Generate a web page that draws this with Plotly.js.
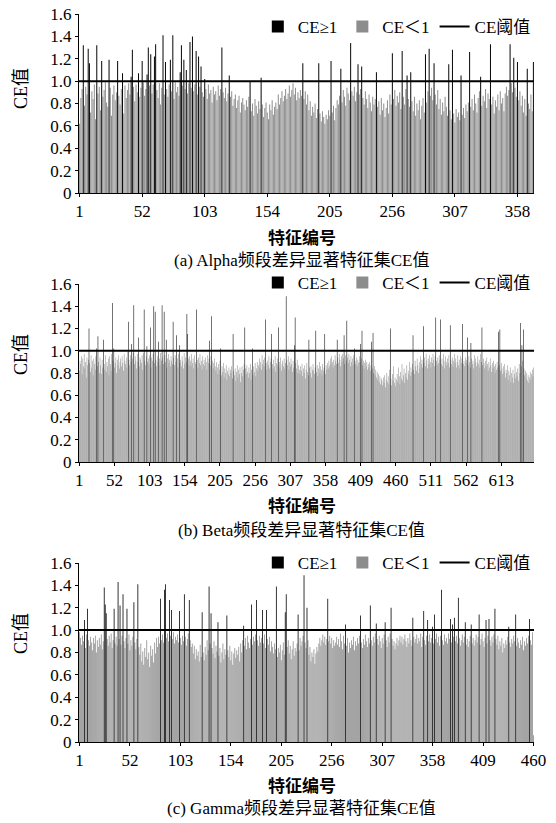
<!DOCTYPE html>
<html><head><meta charset="utf-8">
<script src="https://cdn.plot.ly/plotly-3.0.1.min.js"></script>
<style>html,body{margin:0;padding:0;background:#fff}#chart{width:556px;height:823px}</style>
</head><body><div id="chart"></div>
<script>
// ---------- data ----------
const alphaCE = [
0.62,0.85,0.93,1.32,0.78,0.95,0.88,1.29,1.16,0.72,
0.91,0.84,0.97,0.66,1.32,0.89,0.95,0.74,1.18,0.86,
0.92,0.99,0.81,0.77,1.19,0.94,0.69,0.88,0.96,0.83,
0.90,1.18,0.87,0.79,0.93,1.07,0.71,0.96,0.85,0.92,
0.98,0.88,1.04,1.28,0.95,0.82,0.97,0.90,1.07,0.86,
0.94,1.18,0.99,0.87,0.93,1.06,1.30,0.96,1.24,0.89,
0.97,1.22,1.33,0.92,0.85,0.98,0.79,0.94,1.41,0.88,
1.17,0.93,0.86,0.97,1.19,0.91,1.41,0.84,0.99,0.90,
0.95,0.87,1.08,1.32,0.96,1.19,0.93,1.10,0.89,0.98,
1.35,0.94,1.40,0.91,0.97,1.27,0.88,1.22,0.95,1.13,
0.90,0.86,1.02,0.93,0.84,0.97,0.89,0.92,0.81,0.95,
0.88,0.91,0.83,0.96,0.87,0.93,1.30,0.90,0.85,0.94,
0.82,0.89,1.05,0.86,0.91,0.78,0.84,0.88,0.76,0.83,
0.87,0.72,0.81,0.85,0.79,0.74,0.83,0.77,0.86,1.00,
0.73,0.80,0.69,0.84,0.78,0.71,0.82,0.75,1.03,0.79,
0.68,0.76,0.81,0.72,0.66,0.79,0.74,0.83,0.70,0.77,
0.81,0.75,0.88,0.79,0.85,0.91,0.82,0.87,0.93,0.84,
0.89,0.96,0.86,0.92,0.98,0.88,0.94,0.83,0.90,0.85,
0.92,0.87,1.16,0.84,0.91,0.79,0.88,0.74,0.82,0.69,
0.77,0.72,0.80,0.67,0.75,1.16,0.71,0.64,0.73,0.68,
0.62,0.70,0.66,0.74,0.69,1.18,0.72,0.78,0.65,0.76,
0.83,0.79,0.87,1.11,0.81,0.92,0.86,0.78,0.94,0.89,
0.83,1.34,0.91,0.87,0.95,0.82,0.90,1.15,0.88,0.93,
1.13,0.85,0.79,0.91,0.84,0.76,0.88,0.81,0.73,0.86,
0.79,0.84,1.08,0.77,0.82,0.70,0.85,0.74,0.80,0.68,
0.76,0.83,0.71,0.88,0.79,1.25,0.84,0.92,0.78,0.87,
0.81,0.90,0.75,1.27,0.86,0.79,0.93,1.05,0.84,0.77,
1.08,0.82,0.73,0.86,0.69,0.80,0.74,0.83,0.66,0.78,
0.85,0.72,1.24,0.81,0.91,1.29,0.87,0.94,0.83,1.16,
0.88,0.79,0.92,0.75,0.84,0.70,0.81,0.73,0.86,0.77,
0.69,1.15,0.74,0.66,1.28,0.71,0.63,0.75,0.68,0.72,
0.65,1.05,0.70,0.76,0.67,0.79,0.73,0.81,1.26,0.77,
0.84,0.74,0.88,0.80,0.72,0.85,0.91,1.04,0.78,0.87,
0.82,0.93,0.76,0.89,0.84,1.33,0.79,0.86,0.71,0.83,
0.77,0.88,0.74,0.91,0.80,0.85,0.73,0.89,0.95,0.87,
0.92,1.33,0.98,0.90,1.21,0.94,0.86,1.17,0.83,0.91,
0.78,0.87,0.72,0.84,0.69,1.11,0.80,0.75,0.88,0.73,1.17
];
const betaCE = [
0.82,0.91,0.88,0.95,0.79,0.93,0.86,0.97,0.84,0.90,0.76,0.94,0.87,0.92,1.20,0.89,0.81,0.96,0.85,0.91,
0.78,0.93,0.88,0.83,0.95,1.02,0.86,1.13,0.90,0.80,0.94,0.87,0.79,0.92,0.85,1.10,0.88,0.83,0.96,0.81,
0.90,0.86,0.93,0.78,0.95,0.88,0.82,0.97,1.43,0.91,1.02,0.85,0.89,0.94,0.80,0.92,0.87,0.96,0.84,0.90,
0.93,0.86,0.95,0.89,0.82,0.97,0.91,0.88,0.94,0.85,0.99,1.26,0.92,0.87,0.96,0.90,1.06,0.93,0.98,1.41,
0.88,0.95,0.91,0.84,0.97,0.90,1.12,0.86,0.94,0.92,0.89,0.96,0.83,0.98,1.37,0.91,0.87,0.95,1.04,0.90,
0.93,0.88,0.96,1.21,0.85,0.94,0.91,0.97,1.40,0.89,1.35,0.92,0.86,0.95,0.90,1.08,0.93,0.87,0.98,0.91,
1.41,0.94,0.88,1.35,0.96,0.90,1.10,0.85,0.93,0.97,0.89,0.92,0.86,0.95,0.91,0.88,1.26,0.94,0.87,0.96,
0.90,1.14,0.93,0.85,0.97,1.05,0.89,0.92,0.86,0.95,0.91,0.84,0.98,0.88,0.94,0.90,1.33,1.15,0.93,0.87,
0.95,0.91,0.86,0.97,0.89,0.93,0.84,0.96,0.90,0.88,1.37,0.92,0.85,0.94,0.89,0.97,0.87,0.91,0.83,0.95,
0.88,0.92,0.86,0.94,0.90,0.83,0.96,0.89,0.93,1.09,0.87,0.95,1.31,0.91,0.84,0.89,0.93,0.86,0.82,0.90,
0.85,0.79,0.88,0.83,0.91,1.02,0.78,0.86,0.81,0.89,0.76,0.84,0.80,0.87,0.74,0.82,0.79,0.85,0.77,0.83,
0.80,0.86,0.75,1.15,0.82,0.78,0.84,0.73,0.81,0.87,0.76,0.83,0.79,0.85,0.72,0.80,0.86,0.77,0.83,0.88,
1.21,0.84,0.79,0.87,0.81,0.76,0.85,0.80,0.88,0.74,0.83,1.02,0.78,0.86,0.81,0.89,0.77,0.84,0.90,0.82,
0.87,0.93,0.85,0.90,0.83,0.96,0.88,0.92,0.86,0.94,1.28,0.89,0.83,0.91,0.87,0.95,0.84,0.90,0.93,1.15,
0.88,0.84,0.92,0.86,0.95,0.81,0.89,0.93,0.87,1.21,0.90,0.85,0.94,0.82,0.88,0.91,0.86,0.93,0.84,0.89,
1.49,0.92,0.87,0.95,0.83,0.90,0.86,0.93,0.88,0.81,0.91,0.85,1.05,1.30,0.89,0.84,0.92,0.80,0.87,0.83,
0.79,0.86,0.82,0.88,0.77,0.84,0.80,0.87,0.75,0.83,0.89,0.81,0.78,1.10,0.85,0.80,0.86,0.76,0.83,0.88,
0.82,0.79,0.85,1.18,0.81,0.87,0.77,0.84,0.90,0.80,0.86,0.83,0.78,0.88,0.82,0.85,1.15,0.79,0.87,0.83,
0.89,0.84,0.91,0.86,0.93,0.88,0.95,0.90,0.85,0.92,0.87,0.96,0.91,0.88,1.10,0.94,0.89,0.97,0.92,0.86,
0.95,0.90,0.97,0.93,1.14,0.88,0.96,0.91,1.27,0.94,0.89,0.97,0.92,0.86,0.95,0.90,0.93,0.87,0.96,1.02,
0.91,0.88,0.94,0.86,0.92,0.89,0.95,0.90,1.06,0.93,1.18,0.87,0.91,0.84,0.89,0.92,0.86,0.90,0.83,0.88,
0.85,0.90,0.82,0.87,1.08,0.84,1.16,0.80,0.86,0.78,0.83,0.76,0.81,0.74,0.79,0.72,0.77,0.70,0.75,0.73,
0.69,0.76,0.71,0.78,0.67,0.74,0.80,0.72,0.77,0.70,0.83,1.20,0.75,0.69,0.79,0.73,0.86,0.71,0.76,0.68,
0.74,0.79,0.72,0.85,0.77,0.70,0.81,0.75,0.88,0.73,0.78,0.84,0.71,0.80,0.76,0.87,0.74,0.82,0.79,0.90,
0.77,0.85,0.81,0.88,1.14,0.83,0.79,0.91,0.86,0.82,0.93,0.87,0.80,0.90,0.84,0.95,0.88,0.92,0.85,1.22,
0.89,0.94,0.86,0.97,0.91,0.84,0.93,0.88,0.96,0.90,0.85,0.94,0.89,0.97,0.92,0.86,0.95,1.30,0.91,0.87,
0.94,0.89,0.96,0.92,1.28,0.88,0.93,0.86,0.97,0.91,0.84,0.95,0.90,0.87,0.93,0.89,0.96,0.85,1.23,0.92,
0.88,0.94,0.86,0.91,0.97,0.89,0.93,0.85,0.90,0.96,0.87,0.92,0.84,0.95,0.89,0.93,1.24,0.88,0.91,0.86,
0.94,0.89,0.92,1.12,0.87,0.95,0.90,0.85,1.07,0.93,0.88,0.91,0.84,0.96,0.89,0.93,0.86,0.90,0.95,0.88,
0.92,0.85,0.97,0.90,1.21,0.87,0.93,0.89,0.84,0.91,0.86,0.94,0.88,0.82,0.90,0.85,0.93,0.87,0.81,0.89,
0.84,0.91,0.86,0.80,0.88,0.83,0.90,0.85,1.17,0.87,1.19,0.82,0.89,0.84,0.79,0.86,0.81,0.88,0.76,0.83,
0.80,0.87,0.74,0.82,0.78,0.85,0.72,0.80,0.76,0.83,0.71,0.79,0.86,0.75,0.81,0.77,0.84,0.73,0.88,0.80,
1.25,0.86,1.05,0.91,1.19,0.84,0.78,0.82,0.75,0.80,0.73,0.78,0.71,0.76,0.81,0.74,0.79,0.83,0.77,0.85
];
const gammaCE = [
0.98,0.93,0.87,0.95,0.90,1.09,0.84,0.96,1.19,0.91,0.86,0.94,0.89,0.82,0.93,0.88,0.95,0.80,0.91,0.85,
0.93,0.87,0.96,0.83,0.90,1.38,1.23,1.15,0.92,0.86,0.95,0.89,0.97,0.84,0.91,1.19,0.88,0.94,0.86,1.43,
0.92,1.22,0.87,0.95,1.32,0.90,0.84,0.93,1.19,0.88,0.96,0.82,0.91,0.86,0.94,1.25,0.89,0.83,0.92,1.41,
0.85,0.78,0.88,0.72,0.81,0.69,0.84,0.76,0.91,0.74,0.80,0.67,0.86,0.77,0.83,0.71,0.89,0.79,0.93,0.85,
0.94,0.88,1.28,0.91,0.96,0.89,1.36,1.41,0.93,0.97,0.90,1.27,0.95,1.18,0.92,0.98,0.88,0.94,0.91,0.96,
0.89,1.17,0.93,0.87,0.95,0.90,1.32,0.94,0.86,0.92,0.97,1.27,0.91,0.85,0.88,0.79,0.86,0.74,0.83,0.77,
0.81,0.72,0.87,0.76,1.16,0.80,0.73,0.85,0.78,0.91,0.82,1.39,0.88,1.15,0.84,0.79,0.90,0.75,0.86,0.81,
1.07,0.77,0.84,0.71,0.80,0.88,0.74,0.83,0.78,1.13,0.82,0.76,0.86,0.73,0.81,0.69,0.79,0.84,0.75,0.82,
0.78,0.85,0.72,0.88,0.80,0.91,1.04,0.86,0.93,0.83,0.95,0.89,0.84,0.92,1.23,0.87,0.94,0.90,0.96,1.27,
0.91,0.86,0.95,0.89,0.93,1.18,0.88,0.96,0.84,1.18,0.92,0.87,0.94,0.81,0.90,0.85,0.79,0.88,0.83,1.39,
0.76,0.84,0.80,0.87,0.73,0.82,0.89,0.78,1.16,1.32,0.85,0.91,0.79,0.86,0.74,0.83,0.90,0.77,0.84,0.81,
0.88,1.14,0.82,0.93,0.86,0.90,0.95,1.49,0.89,0.84,1.20,0.91,0.78,0.85,0.72,0.80,0.76,0.83,0.70,0.79,
0.85,0.81,0.88,0.93,0.86,0.91,0.96,0.89,0.94,0.87,0.92,1.28,0.90,0.95,0.88,0.93,0.84,0.91,0.86,0.89,
0.94,0.87,0.92,0.85,0.97,0.90,0.83,0.95,0.88,1.05,0.86,0.93,0.80,0.89,0.84,0.91,0.87,0.94,0.82,0.90,
0.86,0.93,0.88,0.95,1.13,0.89,0.84,0.92,0.87,0.96,0.90,0.85,0.93,0.88,1.22,0.91,0.86,0.94,0.89,0.97,
1.06,0.92,0.87,0.95,0.90,0.84,0.93,0.88,0.96,1.07,0.91,0.85,0.94,0.89,0.97,1.20,0.92,0.86,0.90,0.83,
0.88,0.93,0.86,0.91,0.95,0.89,0.94,0.87,0.92,0.96,0.90,0.85,0.93,0.88,0.97,0.91,0.86,1.11,0.94,0.89,
0.92,0.96,0.88,0.93,0.90,0.97,0.85,0.94,1.17,0.91,0.87,0.95,1.09,0.90,0.96,0.89,0.93,1.03,0.88,1.14,
0.92,0.97,0.89,0.94,0.86,0.95,1.36,0.91,0.87,0.96,0.90,0.93,0.88,0.97,0.92,1.10,0.89,1.05,0.94,1.11,
0.90,0.95,0.88,1.29,0.93,0.86,0.91,0.96,0.89,0.94,1.07,0.87,0.92,0.85,0.90,0.95,1.05,0.88,0.93,0.86,
0.91,0.96,0.89,0.94,1.14,0.87,0.92,0.97,0.90,0.85,0.93,1.09,0.88,0.95,1.10,0.91,0.86,0.94,0.89,0.96,
1.19,0.92,0.87,0.95,0.83,0.90,0.86,0.93,0.80,0.88,0.84,0.91,0.87,0.94,1.03,0.89,0.85,0.92,0.88,0.95,
0.90,1.14,0.86,0.93,0.89,0.84,0.91,0.87,0.94,0.82,0.90,0.86,0.93,0.88,0.95,1.10,0.91,0.87,0.98,0.06
];
const alphaTicks = [1,52,103,154,205,256,307,358];
const betaTicks  = [1,52,103,154,205,256,307,358,409,460,511,562,613];
const gammaTicks = [1,52,103,154,205,256,307,358,409,460];
const yTickVals = [0,0.2,0.4,0.6,0.8,1.0,1.2,1.4,1.6];
const yTickText = ["0","0.2","0.4","0.6","0.8","1.0","1.2","1.4","1.6"];
const threshold = 1;
const seriesNames = ["CE≥1","CE＜1","CE阈值"];
const xTitle = "特征编号";
const yTitle = "CE值";
const captions = ["(a) Alpha频段差异显著特征集CE值","(b) Beta频段差异显著特征集CE值","(c) Gamma频段差异显著特征集CE值"];

// ---------- layout geometry (pixels) ----------
const W = 556, H = 823, L = 79, R = 534.5;
const panels = [
  {data: alphaCE, ticks: alphaTicks, top: 14,  bottom: 193, legY: 27,  capY: 260, xtY: 236, ytY: 89},
  {data: betaCE,  ticks: betaTicks,  top: 284, bottom: 462, legY: 283, capY: 530, xtY: 505, ytY: 355},
  {data: gammaCE, ticks: gammaTicks, top: 563, bottom: 742, legY: 563, capY: 808, xtY: 784, ytY: 634}
];
const px = x => (x - L) / (R - L);
const py = y => 1 - y / H;

const serif = "Liberation Serif, Times New Roman, Noto Sans CJK SC, serif";
const traces = [];
const layout = {
  width: W, height: H,
  margin: {l: L, r: W - R, t: 0, b: 0},
  paper_bgcolor: "#fff", plot_bgcolor: "#fff",
  barmode: "overlay", bargap: 0.2,
  hovermode: false,
  font: {family: serif, size: 17, color: "#000"},
  annotations: []
};

panels.forEach((p, k) => {
  const sfx = k === 0 ? "" : String(k + 1);
  const xa = "x" + sfx, ya = "y" + sfx, lg = "legend" + sfx;
  const idx = p.data.map((_, i) => i + 1);
  const N = p.data.length;
  traces.push({
    type: "bar", x: idx, y: p.data.map(v => v < threshold ? v : null),
    name: seriesNames[1], xaxis: xa, yaxis: ya, legend: lg, legendrank: 2,
    marker: {color: "#8c8c8c", line: {width: 0}}
  });
  traces.push({
    type: "bar", x: idx, y: p.data.map(v => v >= threshold ? v : null),
    name: seriesNames[0], xaxis: xa, yaxis: ya, legend: lg, legendrank: 1,
    marker: {color: "#000000", line: {width: 0}}
  });
  traces.push({
    type: "scatter", mode: "lines", x: [0.5, N + 0.5], y: [threshold, threshold],
    name: seriesNames[2], xaxis: xa, yaxis: ya, legend: lg, legendrank: 3,
    line: {color: "#000", width: 2}
  });
  layout["xaxis" + sfx] = {
    domain: [0, 1], anchor: ya, range: [0.5, N + 0.5],
    tickmode: "array", tickvals: p.ticks, ticktext: p.ticks.map(String),
    showline: true, linecolor: "#000", linewidth: 1,
    ticks: "outside", ticklen: 3, tickcolor: "#000",
    showgrid: false, zeroline: false,
    tickfont: {family: serif, size: 17, color: "#000"}
  };
  layout["yaxis" + sfx] = {
    domain: [py(p.bottom), py(p.top)], anchor: xa, range: [0, 1.6],
    tickmode: "array", tickvals: yTickVals, ticktext: yTickText,
    showline: true, linecolor: "#000", linewidth: 1,
    ticks: "outside", ticklen: 3, tickcolor: "#000",
    showgrid: false, zeroline: false,
    tickfont: {family: serif, size: 17, color: "#000"}
  };
  layout[lg] = {
    x: px(258), y: py(p.legY), xanchor: "left", yanchor: "middle",
    orientation: "h", bgcolor: "rgba(0,0,0,0)", borderwidth: 0,
    font: {family: serif, size: 17, color: "#000"},
    traceorder: "normal", itemclick: false
  };
  layout.annotations.push(
    {xref: "paper", yref: "paper", x: px(302), y: py(p.capY), text: captions[k],
     showarrow: false, xanchor: "center", yanchor: "middle",
     font: {family: serif, size: 17, color: "#000"}},
    {xref: "paper", yref: "paper", x: px(302), y: py(p.xtY), text: xTitle,
     showarrow: false, xanchor: "center", yanchor: "middle",
     font: {family: "Noto Sans CJK SC, sans-serif", size: 17, color: "#000", weight: "bold"}},
    {xref: "paper", yref: "paper", x: px(21), y: py(p.ytY), text: yTitle, textangle: -90,
     showarrow: false, xanchor: "center", yanchor: "middle",
     font: {family: serif, size: 18, color: "#000"}}
  );
});

Plotly.newPlot("chart", traces, layout, {staticPlot: true, displayModeBar: false});
</script></body></html>
